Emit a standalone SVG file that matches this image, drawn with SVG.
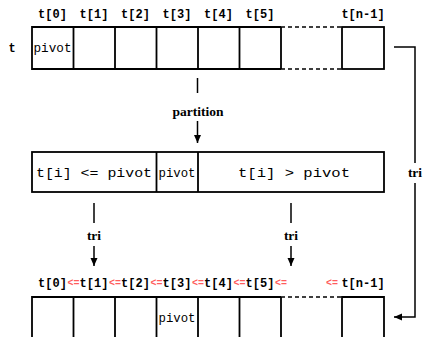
<svg xmlns="http://www.w3.org/2000/svg" width="424" height="337" viewBox="0 0 424 337">
<style>
.box{fill:none;stroke:#000;stroke-width:1.8}
.ln{stroke:#000;stroke-width:1.5;fill:none}
.dash{stroke:#000;stroke-width:1.5;stroke-dasharray:4,3;fill:none}
.idx{font-family:"Liberation Mono",monospace;font-weight:bold;font-size:12px;fill:#000}
.le{font-family:"Liberation Mono",monospace;font-weight:bold;font-size:10px;fill:#ff5c5c}
.mono{font-family:"Liberation Mono",monospace;font-size:12px;fill:#000}
.lab{font-family:"Liberation Serif","DejaVu Serif","Times New Roman",serif;font-weight:bold;font-size:13.5px;fill:#000}
</style>
<defs>
<marker id="ah" markerWidth="8" markerHeight="10" refX="8" refY="5" orient="auto" markerUnits="userSpaceOnUse">
<path d="M0,1.5 L8,5 L0,8.5 Z" fill="#000"/>
</marker>
</defs>
<rect width="424" height="337" fill="#fff"/>

<g id="top-array">
<text class="idx" x="12" y="52" text-anchor="middle">t</text>
<text class="idx" x="52.5" y="18" text-anchor="middle">t[0]</text>
<text class="idx" x="94" y="18" text-anchor="middle">t[1]</text>
<text class="idx" x="135.5" y="18" text-anchor="middle">t[2]</text>
<text class="idx" x="177" y="18" text-anchor="middle">t[3]</text>
<text class="idx" x="218.5" y="18" text-anchor="middle">t[4]</text>
<text class="idx" x="260" y="18" text-anchor="middle">t[5]</text>
<text class="idx" x="363" y="18" text-anchor="middle">t[n-1]</text>
<path class="box" d="M281,27 H32 V69 H281 M73.5,27 V69 M115,27 V69 M156.5,27 V69 M198,27 V69 M239.5,27 V69 M281,27 V69"/>
<path class="dash" d="M281,27 H342 M281,69 H342"/>
<rect class="box" x="342" y="27" width="42" height="42"/>
<text class="mono" x="52.5" y="52" text-anchor="middle" font-size="11" textLength="38" lengthAdjust="spacingAndGlyphs">pivot</text>
</g>

<g id="middle-array">
<rect class="box" x="32" y="152" width="352" height="40"/>
<path class="box" d="M156.5,152 V192 M198,152 V192"/>
<text class="mono" x="94" y="177" text-anchor="middle" textLength="116" lengthAdjust="spacingAndGlyphs">t[i] &lt;= pivot</text>
<text class="mono" x="177" y="177" text-anchor="middle" font-size="11" textLength="37" lengthAdjust="spacingAndGlyphs">pivot</text>
<text class="mono" x="294" y="177" text-anchor="middle" textLength="112" lengthAdjust="spacingAndGlyphs">t[i] &gt; pivot</text>
</g>

<g id="bottom-array">
<text class="idx" x="52.5" y="287" text-anchor="middle">t[0]</text>
<text class="idx" x="94" y="287" text-anchor="middle">t[1]</text>
<text class="idx" x="135.5" y="287" text-anchor="middle">t[2]</text>
<text class="idx" x="177" y="287" text-anchor="middle">t[3]</text>
<text class="idx" x="218.5" y="287" text-anchor="middle">t[4]</text>
<text class="idx" x="260" y="287" text-anchor="middle">t[5]</text>
<text class="idx" x="363" y="287" text-anchor="middle">t[n-1]</text>
<text class="le" x="73.5" y="286" text-anchor="middle">&lt;=</text>
<text class="le" x="115" y="286" text-anchor="middle">&lt;=</text>
<text class="le" x="156.5" y="286" text-anchor="middle">&lt;=</text>
<text class="le" x="198" y="286" text-anchor="middle">&lt;=</text>
<text class="le" x="239.5" y="286" text-anchor="middle">&lt;=</text>
<text class="le" x="281" y="286" text-anchor="middle">&lt;=</text>
<text class="le" x="332" y="286" text-anchor="middle">&lt;=</text>
<path class="box" d="M32,340 V297 H281 M73.5,297 V340 M115,297 V340 M156.5,297 V340 M198,297 V340 M239.5,297 V340 M281,297 V340"/>
<path class="dash" d="M281,297 H342"/>
<path class="box" d="M342,340 V297 H384 V340"/>
<text class="mono" x="177" y="322" text-anchor="middle" font-size="11" textLength="37" lengthAdjust="spacingAndGlyphs">pivot</text>
</g>

<g id="connectors">
<path class="ln" d="M197.5,78 V93"/>
<text class="lab" x="198" y="116" text-anchor="middle">partition</text>
<path class="ln" d="M197.5,121 V143" marker-end="url(#ah)"/>

<path class="ln" d="M94,203 V223"/>
<text class="lab" x="94" y="240" text-anchor="middle">tri</text>
<path class="ln" d="M94,246 V266" marker-end="url(#ah)"/>

<path class="ln" d="M291,203 V223"/>
<text class="lab" x="291" y="240" text-anchor="middle">tri</text>
<path class="ln" d="M291,246 V266" marker-end="url(#ah)"/>

<path class="ln" d="M394,47 H415 V163 M415,183 V317 H394" marker-end="url(#ah)"/>
<text class="lab" x="415" y="177" text-anchor="middle">tri</text>
</g>
</svg>
